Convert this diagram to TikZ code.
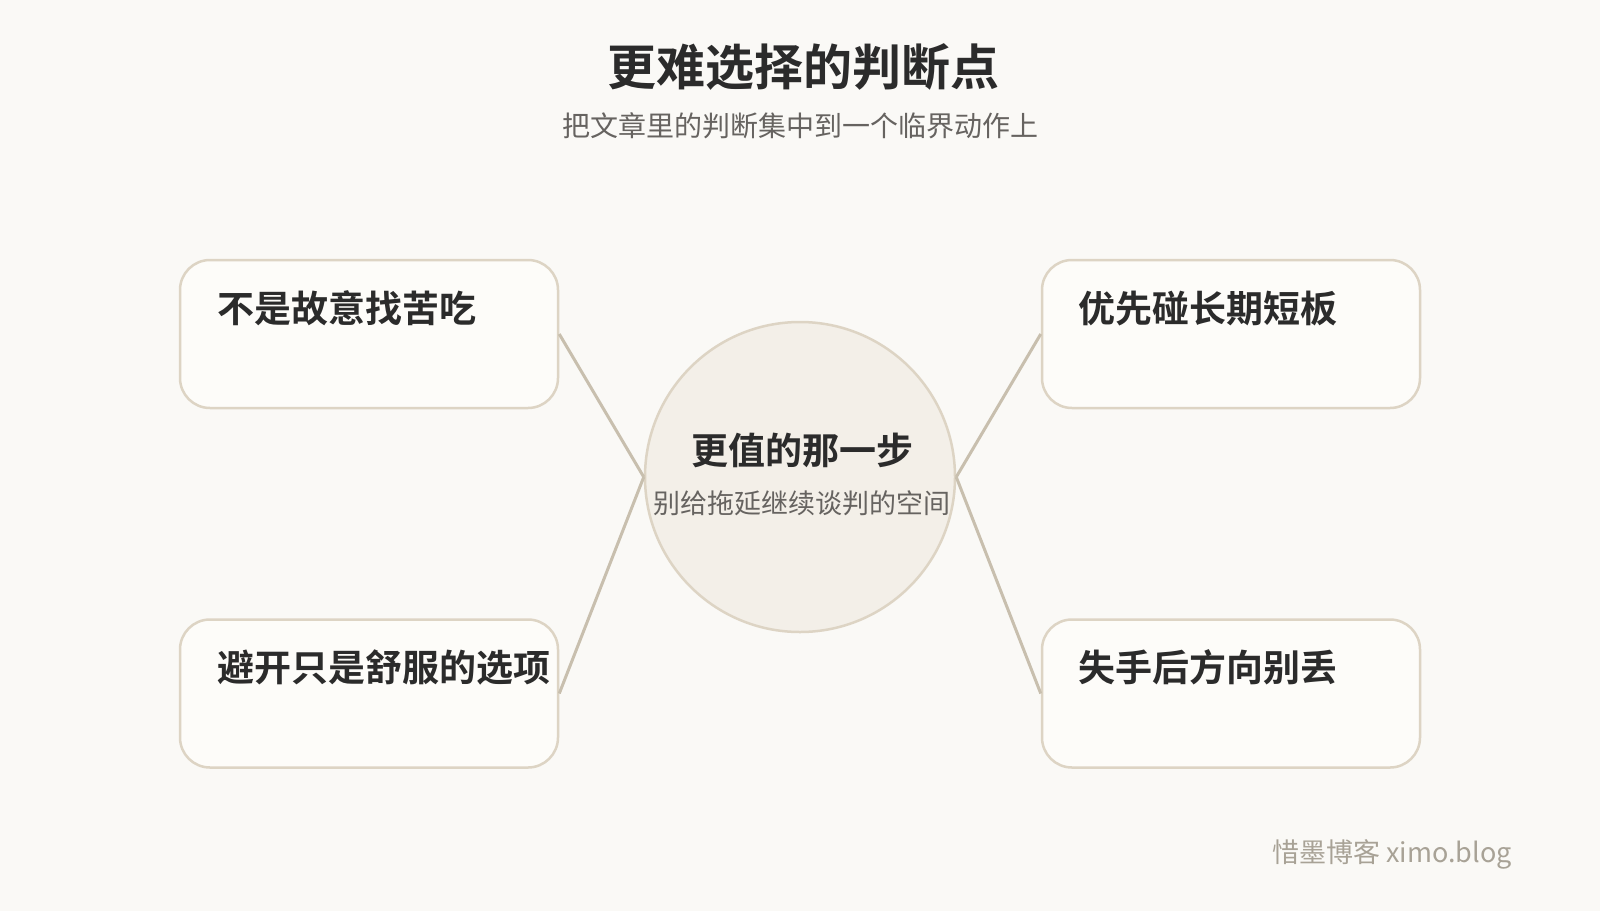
\documentclass[tikz,border=0pt]{standalone}
\usepackage{fontspec}
\newfontfamily\cjk{Noto Sans CJK SC}[BoldFont={* Bold}]
\definecolor{bgc}{HTML}{FAF9F6}
\definecolor{boxfill}{HTML}{FDFCF9}
\definecolor{boxline}{HTML}{DDD4C4}
\definecolor{circfill}{HTML}{F3EFE8}
\definecolor{linkc}{HTML}{C8BFAE}
\definecolor{titlec}{HTML}{2B2B2B}
\definecolor{subc}{HTML}{666360}
\definecolor{markc}{HTML}{A8A296}
\tikzset{
  card/.style={draw=boxline, line width=2.5pt, fill=boxfill, rounded corners=30pt, minimum width=378pt, minimum height=148pt, inner sep=0pt},
  cardtext/.style={anchor=base west, inner sep=0pt, text=titlec, font=\cjk\bfseries\fontsize{37}{40}\selectfont},
  link/.style={draw=linkc, line width=3pt},
}
\begin{document}
\begin{tikzpicture}[x=1pt,y=-1pt]
\fill[bgc] (0,0) rectangle (1600,911);
\useasboundingbox (0,0) rectangle (1600,911);
\node[anchor=base, inner sep=0pt, text=titlec, font=\cjk\bfseries\fontsize{49}{52}\selectfont] (title) at (803,85) {更难选择的判断点};
\node[anchor=base, inner sep=0pt, text=subc, font=\cjk\fontsize{28}{30}\selectfont] (subtitle) at (800,136) {把文章里的判断集中到一个临界动作上};
% cards
\node[card] (c1) at (369,334) {};
\node[card] (c2) at (369,693.5) {};
\node[card] (c3) at (1231,334) {};
\node[card] (c4) at (1231,693.5) {};
% center
\node[circle, draw=boxline, line width=2.5pt, fill=circfill, minimum size=310pt, inner sep=0pt] (hub) at (800,477) {};
\draw[link] (c1.east) -- (hub.west);
\draw[link] (c2.east) -- (hub.west);
\draw[link] (c3.west) -- (hub.east);
\draw[link] (c4.west) -- (hub.east);
\node[anchor=base, inner sep=0pt, text=titlec, font=\cjk\bfseries\fontsize{37}{40}\selectfont] (hubtitle) at (802,464) {更值的那一步};
\node[anchor=base, inner sep=0pt, text=subc, font=\cjk\fontsize{27}{30}\selectfont] (hubsub) at (802,513) {别给拖延继续谈判的空间};
\node[cardtext] (t1) at (217,322) {不是故意找苦吃};
\node[cardtext] (t2) at (217,681) {避开只是舒服的选项};
\node[cardtext] (t3) at (1078,322) {优先碰长期短板};
\node[cardtext] (t4) at (1078,681) {失手后方向别丢};
\node[anchor=base east, inner sep=0pt, text=markc, font=\cjk\fontsize{27}{30}\selectfont] (mark) at (1512,862) {惜墨博客 ximo.blog};
\end{tikzpicture}
\end{document}
